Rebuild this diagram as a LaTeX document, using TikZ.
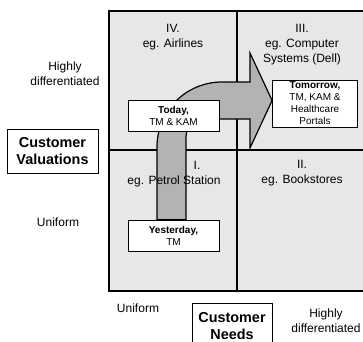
\documentclass[tikz,border=0pt]{standalone}
\usepackage{fontspec}
\setmainfont{Liberation Sans}
\usepackage{tikz}
\usetikzlibrary{positioning}
\definecolor{cellgray}{RGB}{231,231,231}
\definecolor{arrowgray}{RGB}{179,179,179}
\pgfdeclarelayer{grid}
\pgfdeclarelayer{flow}
\pgfsetlayers{grid,flow,main}
\tikzset{
	celltext/.style={align=center, inner sep=0pt, font=\fontsize{12}{15}\selectfont},
	stagebox/.style={rectangle, draw=black, fill=white, line width=0.8pt, minimum width=91pt, minimum height=31pt, inner sep=0pt, align=center, font=\fontsize{10}{12}\selectfont},
	axisbox/.style={rectangle, draw=black, fill=white, line width=1pt, inner sep=0pt, align=center, font=\bfseries\fontsize{14.4}{17}\selectfont},
	gridline/.style={line width=2.5pt},
	bigarrow/.style={draw=black, fill=arrowgray, line width=1.2pt}
}

\begin{document}
\begin{tikzpicture}[x=1pt, y=-1pt]
		\useasboundingbox (0,0) rectangle (363,341);
		
		% Matrix
		\begin{pgfonlayer}{grid}
		\fill [cellgray] (109,11) rectangle (370,291);
		\draw [line width=2pt] (109,11) rectangle (370,291);
		\draw [gridline] (237,11) -- (237,291);
		\draw [gridline] (109,150) -- (370,150);
		\end{pgfonlayer}
		
		% Cell texts
		\node (cellIV) [celltext] at (173,37.5) {IV.\\eg. Airlines};
		\node (cellIII) [celltext] at (302,45) {III.\\eg. Computer\\Systems (Dell)};
		\node (cellInum) [celltext] at (197,165) {I.};
		\node (cellI) [celltext] at (174,181) {eg. Petrol Station};
		\node (cellII) [celltext] at (302,173) {II.\\eg. Bookstores};
		
		% Axis texts
		\node (highV) [celltext] at (65,74) {Highly\\differentiated};
		\node (uniV) [celltext] at (58,222) {Uniform};
		\node (uniN) [celltext] at (138,308) {Uniform};
		\node (highN) [celltext] at (326,321) {Highly\\differentiated};
		\node (valuations) [axisbox, minimum width=91pt, minimum height=44pt] at (52.5,151) {Customer\\Valuations};
		\node (needs) [axisbox, minimum width=80pt, minimum height=46pt] at (232,326) {Customer\\Needs};
		
		% Stages
		\node (yesterday) [stagebox] at (173.5,235.5) {\textbf{Yesterday,}\\TM};
		\node (today) [stagebox] at (173.5,116) {\textbf{Today,}\\TM \& KAM};
		\node (tomorrow) [stagebox, minimum width=85pt, minimum height=47pt] at (315,103.5) {\textbf{Tomorrow,}\\TM, KAM \&\\Healthcare\\Portals};
		
		% Arrow
		\coordinate (tailL) at ([xshift=-16.5pt]yesterday.north);
		\coordinate (tailR) at ([xshift=12.5pt]yesterday.north);
		\coordinate (tip) at ([yshift=3pt]tomorrow.west);
		\begin{pgfonlayer}{flow}
		\draw [bigarrow] (tailL) -- (157,147) .. controls (157,111) and (186,82) .. (222,82) -- (250,82) -- (250,53) -- (tip) -- (250,148) -- (250,119) -- (204,119) .. controls (194,119) and (186,127) .. (186,137) -- (tailR) -- cycle;
		\end{pgfonlayer}
		
	\end{tikzpicture}
\end{document}
